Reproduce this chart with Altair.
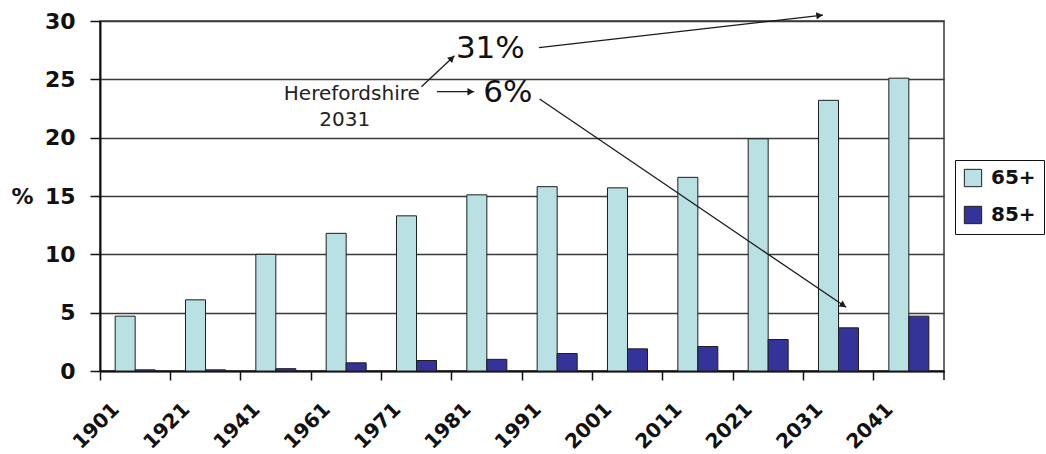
import math
import altair as alt
import pandas as pd

# --- data -------------------------------------------------------------
years = ["1901", "1921", "1941", "1961", "1971", "1981",
         "1991", "2001", "2011", "2021", "2031", "2041"]
pct_65 = [4.7, 6.1, 10.0, 11.8, 13.3, 15.1, 15.8, 15.7, 16.6, 19.9, 23.2, 25.1]
pct_85 = [0.1, 0.1, 0.2, 0.7, 0.9, 1.0, 1.5, 1.9, 2.1, 2.7, 3.7, 4.7]
groups = ["65+", "85+"]
colors = ["#B9E0E3", "#333399"]
y_ticks = [0, 5, 10, 15, 20, 25, 30]

# annotation texts, placed in (category index, percent) units
note_text = ["Herefordshire", "2031", "31%", "6%"]
note_u = [3.58, 3.48, 5.06, 5.45]
note_v = [23.23, 21.03, 26.8, 23.03]

# annotation arrows: start (u1, v1) -> tip (u2, v2)
arrow_u1 = [4.57, 4.79, 6.24, 6.25]
arrow_v1 = [24.37, 23.94, 27.71, 23.31]
arrow_u2 = [5.04, 5.32, 10.28, 10.61]
arrow_v2 = [27.02, 23.94, 30.51, 5.46]

# --- layout -----------------------------------------------------------
W, H = 844, 350
Y_MAX = 30
FONT = "DejaVu Sans"
px_u = W / len(years)
px_v = H / Y_MAX

rows = []
for y, a, b in zip(years, pct_65, pct_85):
    rows.append({"year": y, "group": groups[0], "pct": a})
    rows.append({"year": y, "group": groups[1], "pct": b})
df = pd.DataFrame(rows)

# one shared y scale/axis used by every layer
yv = alt.Scale(domain=[0, Y_MAX], nice=False)
y_axis = alt.Axis(values=y_ticks, title="%",
                  titleAngle=0, titleX=-78, titleY=175,
                  titleAlign="center", titleBaseline="middle",
                  titleFont=FONT, titleFontSize=22, titleFontWeight="bold",
                  titleColor="#111",
                  labelFont=FONT, labelFontSize=22, labelFontWeight="bold",
                  labelColor="#111", labelPadding=15,
                  tickSize=10, tickColor="#111", tickWidth=1.5,
                  domainColor="#111", domainWidth=2,
                  grid=True, gridColor="#3a3a3a", gridWidth=1.5)

bars = alt.Chart(df).mark_bar(stroke="#1e1e1e", strokeWidth=1).encode(
    x=alt.X("year:N", sort=years,
            scale=alt.Scale(paddingInner=0, paddingOuter=0),
            axis=alt.Axis(title=None, bandPosition=0, grid=False,
                          labelAngle=315, labelAlign="right", labelBaseline="middle",
                          labelFont=FONT, labelFontSize=20, labelFontWeight="bold",
                          labelColor="#111", labelOffset=-19, labelPadding=26,
                          labelOverlap=False, labelBound=False,
                          tickSize=9, tickColor="#111", tickWidth=1.5,
                          domainColor="#111", domainWidth=2)),
    xOffset=alt.XOffset("group:N", sort=groups,
                        scale=alt.Scale(domain=groups, paddingInner=0, paddingOuter=0.758)),
    y=alt.Y("pct:Q", scale=yv, axis=y_axis),
    color=alt.Color("group:N",
                    scale=alt.Scale(domain=groups, range=colors),
                    legend=alt.Legend(title=None, orient="none",
                                      legendX=855, legendY=139)),
)

# annotation layers use a plain numeric x running over the category slots
xu = alt.Scale(domain=[0, len(years)], nice=False, zero=False)

arrows = pd.DataFrame({"u": arrow_u1, "v": arrow_v1, "u2": arrow_u2, "v2": arrow_v2})
lines = alt.Chart(arrows).mark_rule(color="#1a1a1a", strokeWidth=1.3).encode(
    x=alt.X("u:Q", scale=xu, axis=None),
    x2="u2:Q",
    y=alt.Y("v:Q", scale=yv, axis=y_axis),
    y2="v2:Q",
)

heads = []
for u1, v1, u2, v2 in zip(arrow_u1, arrow_v1, arrow_u2, arrow_v2):
    dx = (u2 - u1) * px_u
    dy = -(v2 - v1) * px_v
    n = math.hypot(dx, dy)
    ex, ey = dx / n, dy / n
    heads.append({
        "u": u2 - 3.5 * ex / px_u,
        "v": v2 + 3.5 * ey / px_v,
        "ang": math.degrees(math.atan2(dy, dx)) % 360,
    })
heads_df = pd.DataFrame(heads)
tips = alt.Chart(heads_df).mark_point(shape="triangle-right", filled=True,
                                      color="#1a1a1a", size=55, opacity=1).encode(
    x=alt.X("u:Q", scale=xu, axis=None),
    y=alt.Y("v:Q", scale=yv, axis=y_axis),
    angle=alt.Angle("ang:Q", scale=None),
)

notes = pd.DataFrame({"u": note_u, "v": note_v, "text": note_text})
small_notes = alt.Chart(notes.iloc[:2]).mark_text(
    font=FONT, fontSize=20, color="#222", align="center", baseline="alphabetic"
).encode(
    x=alt.X("u:Q", scale=xu, axis=None),
    y=alt.Y("v:Q", scale=yv, axis=y_axis),
    text="text:N",
)
big_notes = alt.Chart(notes.iloc[2:]).mark_text(
    font=FONT, fontSize=31, color="#111", align="left", baseline="alphabetic"
).encode(
    x=alt.X("u:Q", scale=xu, axis=None),
    y=alt.Y("v:Q", scale=yv, axis=y_axis),
    text="text:N",
)

# closing tick at the right end of the category axis
end_tick = alt.Chart(pd.DataFrame({"u": [len(years)], "v": [0], "v2": [-9 / px_v]})).mark_rule(
    color="#111", strokeWidth=1.5
).encode(
    x=alt.X("u:Q", scale=xu, axis=None),
    y=alt.Y("v:Q", scale=yv, axis=y_axis),
    y2="v2:Q",
)

chart = alt.layer(bars, lines, tips, small_notes, big_notes, end_tick).resolve_scale(
    x="independent"
).properties(
    width=W, height=H,
    background="white",
    autosize=alt.AutoSizeParams(type="none"),
    padding={"left": 100, "top": 21, "right": 1046 - 100 - W, "bottom": 454 - 21 - H},
).configure_view(
    stroke="#3a3a3a", strokeWidth=1.5
).configure_legend(
    strokeColor="#111", fillColor="white", padding=8,
    symbolType="square", symbolSize=300,
    symbolStrokeColor="#1e1e1e", symbolStrokeWidth=1,
    labelFont=FONT, labelFontSize=20, labelFontWeight="bold", labelColor="#111",
    labelOffset=8, rowPadding=15, cornerRadius=0,
)

chart.save("out.html", embed_options={"renderer": "svg", "actions": False})
